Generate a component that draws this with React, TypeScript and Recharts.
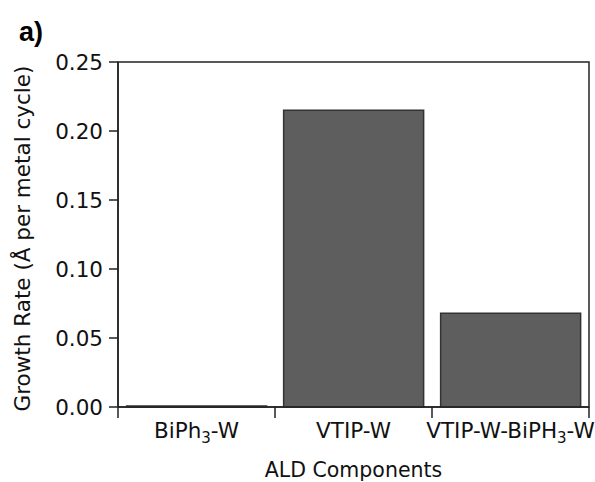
import React from 'react';
import { BarChart, Bar, XAxis, YAxis, ReferenceArea } from 'recharts';

// ALD growth rates
const categories = ['BiPh3-W', 'VTIP-W', 'VTIP-W-BiPH3-W'];
const growthRates = [0.0008, 0.215, 0.068];
const yTicks = [0, 0.05, 0.1, 0.15, 0.2, 0.25];

const chartData = categories.map((name, i) => ({ name, rate: growthRates[i] }));

const FONT = '"DejaVu Sans", "Liberation Sans", sans-serif';

// renders "H3" style subscripts as tspans
const withSubscripts = (label: string) => {
    const parts = label.split(/(\d)/);
    return parts.map((p, i) =>
        /\d/.test(p) ? (
            <tspan key={i} fontSize={15} dy={5}>
                {p}
            </tspan>
        ) : (
            <tspan key={i} dy={i > 0 && /\d/.test(parts[i - 1]) ? -5 : 0}>
                {p}
            </tspan>
        )
    );
};

const CategoryTick = (props: any) => {
    const { x, y, payload, index, width, visibleTicksCount } = props;
    const band = width / visibleTicksCount;
    const left = x - band / 2;
    const right = x + band / 2;
    return (
        <g>
            <line x1={left} y1={y - 8} x2={left} y2={y + 3} stroke="#222" strokeWidth={1.5} />
            {index === visibleTicksCount - 1 && (
                <line x1={right} y1={y - 8} x2={right} y2={y + 3} stroke="#222" strokeWidth={1.5} />
            )}
            <text
                x={x}
                y={y + 23}
                textAnchor="middle"
                fontSize={21.5}
                fontFamily={FONT}
                fill="#111"
            >
                {withSubscripts(payload.value)}
            </text>
        </g>
    );
};

const App: React.FC = () => {
    return (
        <div style={{ position: 'absolute', left: 0, top: 0, width: 595, height: 482, background: '#fff' }}>
            <svg width={595} height={482} style={{ position: 'absolute', left: 0, top: 0 }}>
                <text x={19} y={41} fontSize={27} fontWeight="bold" fontFamily='"Liberation Sans", Arial, sans-serif' fill="#000">
                    a)
                </text>
            </svg>
            <BarChart
                width={595}
                height={482}
                data={chartData}
                margin={{ top: 62, right: 6, left: 0, bottom: 35 }}
                barCategoryGap="5.5%"
                style={{ position: 'absolute', left: 0, top: 0 }}
            >
                <XAxis
                    dataKey="name"
                    type="category"
                    height={40}
                    axisLine={{ stroke: '#222', strokeWidth: 1.5 }}
                    tickLine={false}
                    tick={<CategoryTick />}
                    interval={0}
                    label={{
                        value: 'ALD Components',
                        position: 'insideBottom',
                        dy: 35,
                        fontSize: 20.5,
                        fontFamily: FONT,
                        fill: '#111',
                    }}
                />
                <YAxis
                    width={118}
                    domain={[0, 0.25]}
                    ticks={yTicks}
                    interval={0}
                    tickFormatter={(v: number) => v.toFixed(2)}
                    tickSize={9}
                    tickMargin={6}
                    axisLine={{ stroke: '#222', strokeWidth: 1.5 }}
                    tickLine={{ stroke: '#222', strokeWidth: 1.5 }}
                    tick={{ fontSize: 21.5, fontFamily: FONT, fill: '#111' }}
                    label={{
                        value: 'Growth Rate (Å per metal cycle)',
                        angle: -90,
                        position: 'center',
                        dx: -37,
                        dy: 4,
                        fontSize: 21.5,
                        fontFamily: FONT,
                        fill: '#111',
                    }}
                />
                {/* plot frame */}
                <ReferenceArea y1={0} y2={0.25} fill="none" stroke="#222" strokeWidth={1.5} ifOverflow="visible" />
                <Bar dataKey="rate" fill="#5e5e5e" stroke="#333" strokeWidth={1.5} isAnimationActive={false} />
            </BarChart>
        </div>
    );
};

export default App;
